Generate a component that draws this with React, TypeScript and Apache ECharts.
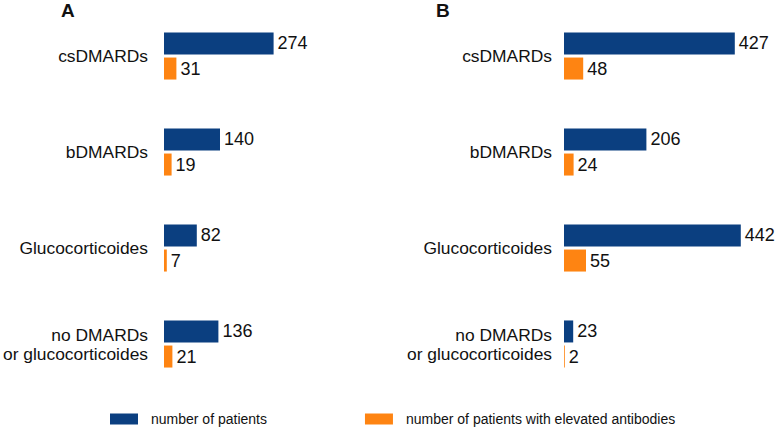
import React, { useEffect, useRef } from "react";
import * as echarts from "echarts";

const categories = ["csDMARDs", "bDMARDs", "Glucocorticoides", "no DMARDs\nor glucocorticoides"];
const patientsA = [274, 140, 82, 136];
const antibodiesA = [31, 19, 7, 21];
const patientsB = [427, 206, 442, 23];
const antibodiesB = [48, 24, 55, 2];
const seriesNames = ["number of patients", "number of patients with elevated antibodies"];
const panelTitles = ["A", "B"];

const BLUE = "#0b3f80";
const ORANGE = "#fe8412";

export default function App() {
  const ref = useRef<HTMLDivElement>(null);
  useEffect(() => {
    if (!ref.current) return;
    const chart = echarts.init(ref.current, null, { renderer: "svg" });
    const font = "'Liberation Sans', Arial, Helvetica, sans-serif";
    const valueLabel = {
      show: true,
      position: "right",
      distance: 4,
      fontSize: 18,
      color: "#111",
      fontFamily: font,
    };
    const mkBar = (name: string, data: number[], idx: number, color: string) => ({
      type: "bar",
      name,
      data,
      xAxisIndex: idx,
      yAxisIndex: idx,
      barWidth: 22,
      barGap: "14%",
      itemStyle: { color },
      label: valueLabel,
    });
    const yAxis = (idx: number, margin: number) => ({
      type: "category",
      gridIndex: idx,
      data: categories,
      inverse: true,
      axisLine: { show: false },
      axisTick: { show: false },
      axisLabel: {
        margin,
        fontSize: 17.4,
        lineHeight: 19,
        color: "#111",
        fontFamily: font,
        align: "right",
        padding: [4, 0, 0, 0],
      },
    });
    const xAxis = (idx: number) => ({
      type: "value",
      gridIndex: idx,
      min: 0,
      max: 500,
      show: false,
      splitLine: { show: false },
    });
    chart.setOption({
      animation: false,
      grid: [
        { left: 164, top: 8, width: 200, height: 384 },
        { left: 564, top: 8, width: 200, height: 384 },
      ],
      xAxis: [xAxis(0), xAxis(1)],
      yAxis: [yAxis(0, 16), yAxis(1, 12)],
      legend: {
        data: seriesNames,
        left: 110,
        top: 412,
        padding: 0,
        itemWidth: 28,
        itemHeight: 11,
        itemGap: 98,
        icon: "rect",
        textStyle: {
          fontSize: 14,
          color: "#111",
          fontFamily: font,
          padding: [0, 0, 0, 8],
        },
      },
      graphic: [
        {
          type: "text",
          left: 61,
          top: 1,
          style: { text: panelTitles[0], font: `bold 19px ${font}`, fill: "#111" },
        },
        {
          type: "text",
          left: 436,
          top: 1,
          style: { text: panelTitles[1], font: `bold 19px ${font}`, fill: "#111" },
        },
      ],
      series: [
        mkBar(seriesNames[0], patientsA, 0, BLUE),
        mkBar(seriesNames[1], antibodiesA, 0, ORANGE),
        mkBar(seriesNames[0], patientsB, 1, BLUE),
        mkBar(seriesNames[1], antibodiesB, 1, ORANGE),
      ],
    });
    return () => chart.dispose();
  }, []);
  return <div ref={ref} style={{ width: 780, height: 427, position: "absolute", left: 0, top: 0 }} />;
}
